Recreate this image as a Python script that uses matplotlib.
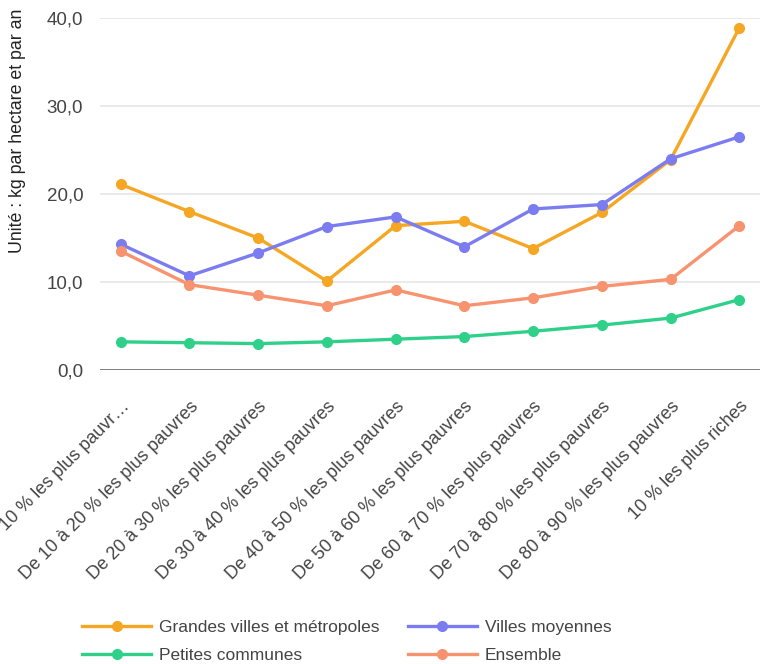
import matplotlib
matplotlib.use("Agg")
import matplotlib.pyplot as plt

plt.rcParams["font.family"] = ["Liberation Sans", "DejaVu Sans"]

categories = [
    "10 % les plus pauvr…",
    "De 10 à 20 % les plus pauvres",
    "De 20 à 30 % les plus pauvres",
    "De 30 à 40 % les plus pauvres",
    "De 40 à 50 % les plus pauvres",
    "De 50 à 60 % les plus pauvres",
    "De 60 à 70 % les plus pauvres",
    "De 70 à 80 % les plus pauvres",
    "De 80 à 90 % les plus pauvres",
    "10 % les plus riches",
]
grandes_villes = [21.1, 18.0, 15.0, 10.1, 16.4, 16.9, 13.8, 17.9, 23.9, 38.9]
villes_moyennes = [14.3, 10.7, 13.3, 16.3, 17.4, 14.0, 18.3, 18.8, 24.0, 26.5]
petites_communes = [3.2, 3.1, 3.0, 3.2, 3.5, 3.8, 4.4, 5.1, 5.9, 8.0]
ensemble = [13.5, 9.7, 8.5, 7.3, 9.1, 7.3, 8.2, 9.5, 10.3, 16.4]
y_ticks = [0, 10, 20, 30, 40]

series = [
    ("Grandes villes et métropoles", grandes_villes, "#f5a623"),
    ("Villes moyennes", villes_moyennes, "#7b7cf0"),
    ("Petites communes", petites_communes, "#2fd08a"),
    ("Ensemble", ensemble, "#f7936f"),
]

fig = plt.figure(figsize=(7.71, 6.64), dpi=100)
ax = fig.add_axes([100 / 771, 1 - 370 / 664, 660 / 771, 352 / 664])

x = list(range(len(categories)))
lines = {}
for name, vals, col in series:
    ln, = ax.plot(x, vals, color=col, linewidth=2.4, marker="o", markersize=7,
                  label=name, clip_on=False, zorder=3)
    lines[name] = ln

ax.set_xlim(-0.3, 9.3)
ax.set_ylim(0, 40)
ax.set_yticks(y_ticks)
ax.set_yticklabels([f"{v:.1f}".replace(".", ",") for v in y_ticks],
                   fontsize=13.5, color="#444444")
ax.grid(axis="y", color="#e6e6e6", linewidth=1.2, zorder=0)
ax.axhline(0, color="#757575", linewidth=2, zorder=2)
for s in ax.spines.values():
    s.set_visible(False)
ax.tick_params(length=0)
ax.tick_params(axis="y", pad=12)
ax.tick_params(axis="x", pad=20)

ax.set_xticks(x)
ax.set_xticklabels(categories, rotation=45, ha="right", rotation_mode="anchor",
                   fontsize=13, color="#444444")

fig.text(18 / 771, 1 - 131 / 664, "Unité : kg par hectare et par an",
         rotation=90, ha="center", va="center", fontsize=12.8, color="#222222")

# legend filled row by row, like the original
order = ["Grandes villes et métropoles", "Petites communes",
         "Villes moyennes", "Ensemble"]
fig.legend([lines[n] for n in order], order,
           loc="upper left", bbox_to_anchor=(82 / 771, 1 - 620 / 664),
           ncol=2, frameon=False, fontsize=12.5, labelcolor="#444444",
           borderaxespad=0, borderpad=0,
           handlelength=4.0, columnspacing=1.6, handletextpad=0.45,
           labelspacing=0.72)

fig.savefig("out.png", dpi=100)
